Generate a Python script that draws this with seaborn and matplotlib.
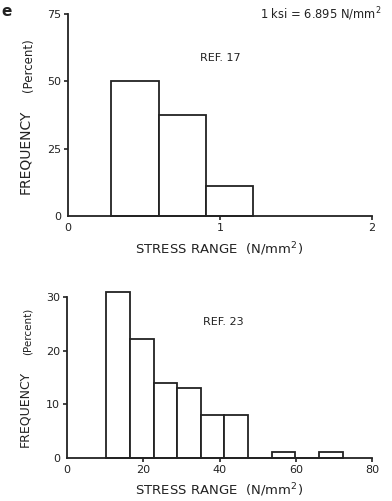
import numpy as np
import pandas as pd
import matplotlib
matplotlib.use("Agg")
import matplotlib.pyplot as plt
import seaborn as sns

# ---- data ----
ref17_edges = [0.285, 0.6, 0.905, 1.22]
ref17_freq = [50.0, 37.5, 11.0]

ref23_edges = [10.3, 16.5, 22.7, 28.9, 35.1, 41.3, 47.5, 53.7, 59.9, 66.1, 72.3]
ref23_freq = [31.0, 22.2, 14.0, 13.1, 8.1, 8.1, 0.0, 1.2, 0.0, 1.2]

top_xticks = [0, 1, 2]
top_xticklabels = ["0", "1", "2"]
top_yticks = [0, 25, 50, 75]
bot_xticks = [0, 20, 40, 60, 80]
bot_yticks = [0, 10, 20, 30]

sns.set_style("ticks")
plt.rcParams["font.family"] = ["DejaVu Sans"]

W, H = 392, 501
fig = plt.figure(figsize=(W / 100, H / 100), dpi=100)


def px_axes(left, right, top, bottom):
    return fig.add_axes([left / W, 1 - bottom / H, (right - left) / W, (bottom - top) / H])


ax1 = px_axes(68, 372, 14, 216)
ax2 = px_axes(67, 372, 286.3, 458)


def draw(ax, edges, freq):
    e = np.array(edges, dtype=float)
    centers = (e[:-1] + e[1:]) / 2
    df = pd.DataFrame({"x": centers, "w": freq})
    sns.histplot(data=df, x="x", weights="w", bins=list(edges), ax=ax, stat="count",
                 color="white", edgecolor="#222222", linewidth=1.3, alpha=1)
    for p in ax.patches:
        p.set_clip_on(False)


draw(ax1, ref17_edges, ref17_freq)
draw(ax2, ref23_edges, ref23_freq)

for ax in (ax1, ax2):
    sns.despine(ax=ax)
    for s in ("left", "bottom"):
        ax.spines[s].set_linewidth(1.3)
        ax.spines[s].set_color("#222222")
    ax.tick_params(direction="out", length=3, width=1.2, colors="#222222",
                   labelsize=8, pad=2)
    ax.set_xlabel("")
    ax.set_ylabel("")
    ax.set_facecolor("white")

ax1.set_xlim(0, 2)
ax1.set_ylim(0, 75)
ax1.set_xticks(top_xticks)
ax1.set_xticklabels(top_xticklabels)
ax1.set_yticks(top_yticks)

ax2.set_xlim(0, 80)
ax2.set_ylim(0, 32)
ax2.spines["left"].set_bounds(0, 30)
ax2.set_xticks(bot_xticks)
ax2.set_yticks(bot_yticks)

for ax in (ax1, ax2):
    ax.xaxis.get_major_ticks()[0].tick1line.set_visible(False)
    ax.yaxis.get_major_ticks()[0].tick1line.set_visible(False)

# annotations
tc = "#222222"
fig.text(321 / W, 1 - 14 / H, "1 ksi = 6.895 N/mm$^2$", ha="center", va="center",
         fontsize=8.3, color=tc)
fig.text(220 / W, 1 - 58 / H, "REF. 17", ha="center", va="center", fontsize=8, color=tc)
fig.text(223 / W, 1 - 322 / H, "REF. 23", ha="center", va="center", fontsize=8, color=tc)
fig.text(219 / W, 1 - 249 / H, "STRESS RANGE  (N/mm$^2$)", ha="center", va="center",
         fontsize=9.5, color=tc)
fig.text(219 / W, 1 - 490 / H, "STRESS RANGE  (N/mm$^2$)", ha="center", va="center",
         fontsize=9.5, color=tc)

# y labels
fig.text(25 / W, 1 - 152 / H, "FREQUENCY", rotation=90, ha="center", va="center",
         fontsize=10, color=tc)
fig.text(28 / W, 1 - 65 / H, "(Percent)", rotation=90, ha="center", va="center",
         fontsize=8.5, color=tc)
fig.text(25 / W, 1 - 409 / H, "FREQUENCY", rotation=90, ha="center", va="center",
         fontsize=9, color=tc)
fig.text(28 / W, 1 - 331 / H, "(Percent)", rotation=90, ha="center", va="center",
         fontsize=7.5, color=tc)

fig.text(1 / W, 1 - 12 / H, "e", ha="left", va="center", fontsize=11,
         fontweight="bold", color=tc)

fig.savefig("out.png", dpi=100, facecolor="white")
